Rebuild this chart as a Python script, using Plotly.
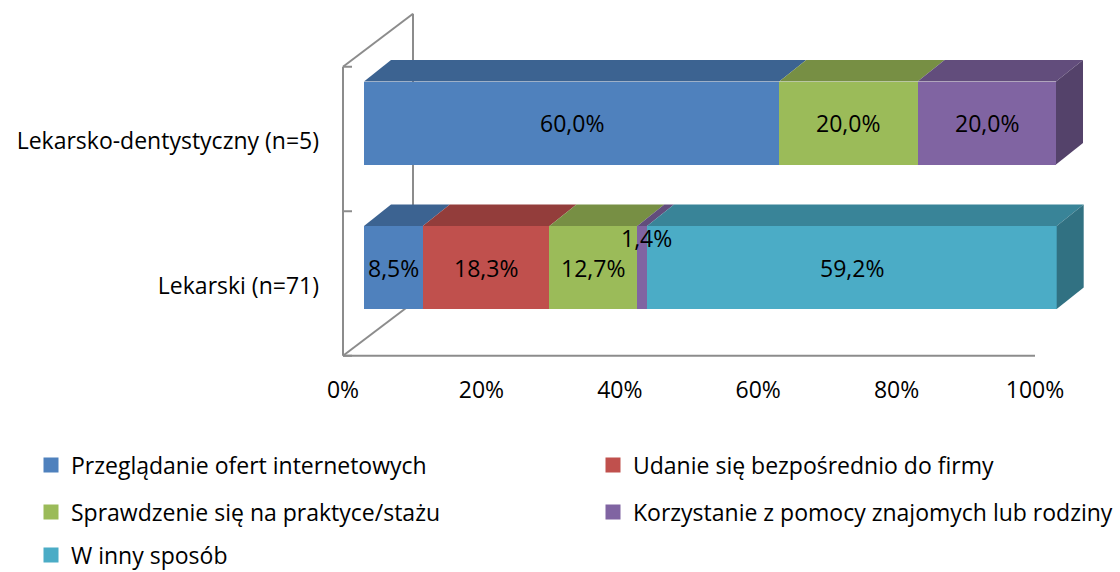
import plotly.graph_objects as go

# ---------------- data ----------------
categories = ["Lekarski (n=71)", "Lekarsko-dentystyczny (n=5)"]
series_names = [
    "Przeglądanie ofert internetowych",
    "Udanie się bezpośrednio do firmy",
    "Sprawdzenie się na praktyce/stażu",
    "Korzystanie z pomocy znajomych lub rodziny",
    "W inny sposób",
]
v_przegladanie = [8.5, 60.0]
v_udanie = [18.3, 0.0]
v_sprawdzenie = [12.7, 20.0]
v_korzystanie = [1.4, 20.0]
v_inny = [59.2, 0.0]
x_tick_values = [0, 20, 40, 60, 80, 100]
x_tick_labels = ["0%", "20%", "40%", "60%", "80%", "100%"]

series_values = [v_przegladanie, v_udanie, v_sprawdzenie, v_korzystanie, v_inny]

# ---------------- style ----------------
colors = ["#4F81BD", "#C0504D", "#9BBB59", "#8064A2", "#4BACC6"]
FONT = "Open Sans"
FS = 23
W, H = 1120, 572
PX_L, PX_R, PX_T, PX_B = 330, 1100, 0, 372   # plot area in pixels
X0_PX, XPU = 364, 6.92                         # pixel of value 0 and pixels per unit
Y0_PX, YPU = 267.5, 144.5                      # pixel of category 0, pixels per category
BAR_W = 83 / YPU
# 3D depth of bars (top/side faces)
DX, DY = 27 / XPU, 21.5 / YPU
# front plane offset from bar plane
FX, FY = -21 / XPU, -16 / YPU
# depth of walls
BX, BY = 70 / XPU, 53 / YPU
GRID = "#8C8C8C"


def shade(hexcol, f):
    h = hexcol.lstrip("#")
    r, g, b = (int(h[i:i + 2], 16) for i in (0, 2, 4))
    return "rgb(%d,%d,%d)" % (r * f, g * f, b * f)


xr = [(PX_L - X0_PX) / XPU, (PX_R - X0_PX) / XPU]
yr = [(Y0_PX - PX_B) / YPU, (Y0_PX - PX_T) / YPU]

fig = go.Figure()

# front faces
for name, vals, col, i in zip(series_names, series_values, colors, range(5)):
    fig.add_trace(go.Bar(
        x=vals, y=list(range(len(categories))), orientation="h",
        width=BAR_W, marker=dict(color=col, line=dict(width=0)),
        name=name, showlegend=False, hoverinfo="skip",
    ))
    # legend item
    fig.add_trace(go.Scatter(
        x=[None], y=[None], mode="markers", name=name,
        marker=dict(symbol="square", size=15, color=col),
        legend="legend" if i == 0 else "legend%d" % (i + 1),
    ))

# top & side faces + labels
annotations = []
for ci in range(len(categories)):
    cum = 0.0
    last = None
    for si, vals in enumerate(series_values):
        v = vals[ci]
        if v <= 0:
            continue
        a, b = cum, cum + v
        top = ci + BAR_W / 2
        fig.add_trace(go.Scatter(
            x=[a, b, b + DX, a + DX, a], y=[top, top, top + DY, top + DY, top],
            mode="lines", fill="toself", fillcolor=shade(colors[si], 0.77),
            line=dict(width=0), showlegend=False, hoverinfo="skip",
        ))
        label = ("%.1f%%" % v).replace(".", ",")
        small = v < 3
        annotations.append(dict(
            x=(a + b) / 2, y=ci, xref="x", yref="y", text=label, showarrow=False,
            yshift=30 if small else 0, xshift=4 if small else 0,
            font=dict(family=FONT, size=FS, color="black"),
        ))
        cum = b
        last = (si, b)
    si, b = last
    bot, top = ci - BAR_W / 2, ci + BAR_W / 2
    fig.add_trace(go.Scatter(
        x=[b, b + DX, b + DX, b, b], y=[bot, bot + DY, top + DY, top, bot],
        mode="lines", fill="toself", fillcolor=shade(colors[si], 0.66),
        line=dict(width=0), showlegend=False, hoverinfo="skip",
    ))

# frame (walls / axis lines)
ybot = -0.5 + FY
ytop = len(categories) - 0.5 + FY
shapes = []
line = dict(color=GRID, width=2)
shapes.append(dict(type="line", xref="x", yref="y", x0=FX, x1=FX, y0=ybot, y1=ytop, line=line, layer="below"))
shapes.append(dict(type="line", xref="x", yref="y", x0=FX, x1=100 + FX, y0=ybot, y1=ybot, line=line, layer="below"))
shapes.append(dict(type="line", xref="x", yref="y", x0=FX, x1=FX + BX, y0=ybot, y1=ybot + BY, line=line, layer="below"))
shapes.append(dict(type="line", xref="x", yref="y", x0=FX, x1=FX + BX, y0=ytop, y1=ytop + BY, line=line, layer="below"))
shapes.append(dict(type="line", xref="x", yref="y", x0=FX + BX, x1=FX + BX, y0=ybot + BY, y1=ytop + BY, line=line, layer="below"))
for k in range(len(categories) + 1):
    yy = -0.5 + k + FY
    shapes.append(dict(type="line", xref="x", yref="y", x0=FX, x1=FX + 9 / XPU, y0=yy, y1=yy, line=line, layer="below"))

# legend placement: (left px of legend box, centre y px)
legend_pos = [(31, 465), (593, 465), (31, 512), (593, 512), (31, 555)]
legends = {}
for i, (lx, ly) in enumerate(legend_pos):
    key = "legend" if i == 0 else "legend%d" % (i + 1)
    legends[key] = dict(
        x=lx / W, y=1 - ly / H, xanchor="left", yanchor="middle",
        font=dict(family=FONT, size=FS, color="black"), bgcolor="rgba(0,0,0,0)",
        borderwidth=0,
    )

fig.update_layout(
    width=W, height=H, barmode="stack", bargap=0,
    margin=dict(l=0, r=0, t=0, b=0, autoexpand=False),
    plot_bgcolor="white", paper_bgcolor="white",
    font=dict(family=FONT, size=FS, color="black"),
    xaxis=dict(domain=[PX_L / W, PX_R / W], range=xr, showgrid=False, zeroline=False,
               showline=False, tickvals=[t + FX for t in x_tick_values], ticktext=x_tick_labels,
               ticks="", automargin=False, fixedrange=True, ticklabelstandoff=2,
               tickfont=dict(family=FONT, size=FS, color="black")),
    yaxis=dict(domain=[1 - PX_B / H, 1 - PX_T / H], range=yr, showgrid=False, zeroline=False,
               showline=False, tickvals=[i + FY - 2 / YPU for i in range(len(categories))],
               ticktext=categories,
               ticks="", automargin=False, fixedrange=True, ticklabelstandoff=10,
               tickfont=dict(family=FONT, size=FS, color="black")),
    shapes=shapes, annotations=annotations,
    **legends,
)

fig.write_html("out.html", config={"displayModeBar": False},
               post_script="document.body.style.margin='0';")
